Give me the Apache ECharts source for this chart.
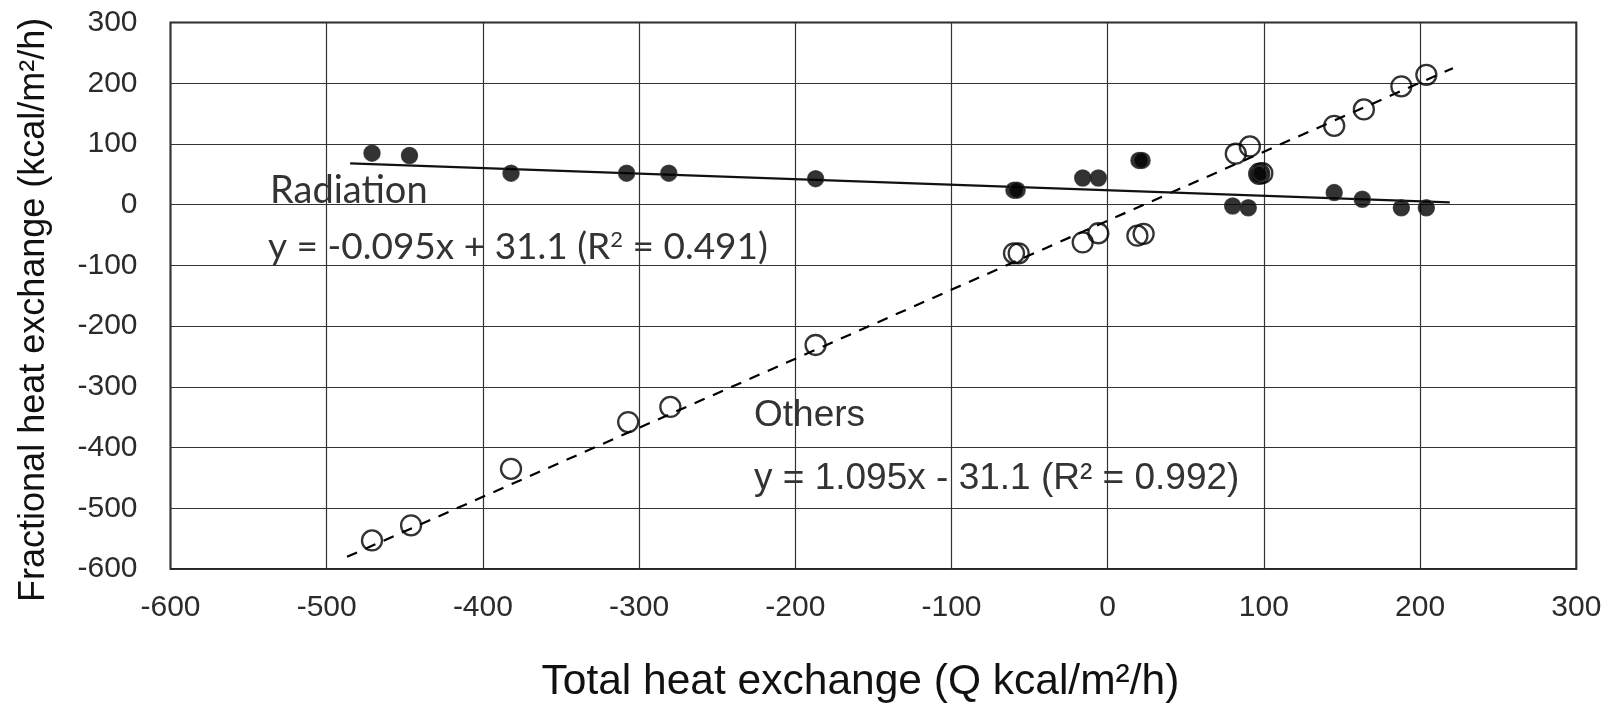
<!DOCTYPE html>
<html>
<head>
<meta charset="utf-8">
<title>Heat exchange</title>
<script src="https://cdn.jsdelivr.net/npm/echarts@6/dist/echarts.min.js"></script>
<style>
  html, body { margin: 0; padding: 0; background: #fff; }
  #container { width: 1613px; height: 715px; }
</style>
</head>
<body>
<div id="container"></div>
<script>
// total heat exchange Q for each measurement
var qRad = [-471, -447, -382, -308, -281, -187, -60, -58, -16, -6, 20, 22, 80, 90, 96, 98, 145, 163, 188, 204];
var radiation = [85, 81, 52, 52, 52, 43, 24, 24, 44, 44, 73, 73, -2, -5, 49, 52, 20, 9, -5, -5];
var qOth = [-471, -446, -382, -307, -280, -187, -60, -57, -16, -6, 19, 23, 82, 91, 97, 99, 145, 164, 188, 204];
var others = [-553, -528, -435, -358, -333, -231, -80, -80, -62, -47, -51, -48, 84, 96, 51, 52, 130, 157, 195, 214];

// fitted lines as drawn (end points)
var radFitX = [-485, 219];
var radFitY = [68, 4];
var othFitX = [-487, 221];
var othFitY = [-580, 225];

var xTicks = [-600, 300, 100]; // min, max, interval
var yTicks = [-600, 300, 100];

function pairs(xs, ys) {
    return xs.map(function (x, i) { return [x, ys[i]]; });
}

var dom = document.getElementById('container');
var myChart = echarts.init(dom);

var tickFont = { fontFamily: 'Liberation Sans', fontSize: 30, color: '#2b2b2b' };

var option = {
    animation: false,
    backgroundColor: '#fff',
    grid: {
        show: true,
        left: 170.5,
        top: 22.6,
        width: 1405.8,
        height: 546.4,
        borderColor: '#222',
        borderWidth: 2
    },
    xAxis: {
        type: 'value',
        min: xTicks[0], max: xTicks[1], interval: xTicks[2],
        name: 'Total heat exchange (Q kcal/m²/h)',
        nameLocation: 'middle',
        nameGap: 92,
        nameTextStyle: { fontFamily: 'Liberation Sans', fontSize: 42.5, color: '#111', padding: [0, 26, 0, 0] },
        axisLine: { show: false },
        axisTick: { show: false },
        axisLabel: Object.assign({ margin: 24 }, tickFont),
        splitLine: { lineStyle: { color: '#333', width: 1.2 } }
    },
    yAxis: {
        type: 'value',
        min: yTicks[0], max: yTicks[1], interval: yTicks[2],
        name: 'Fractional heat exchange (kcal/m²/h)',
        nameLocation: 'middle',
        nameGap: 118,
        nameTextStyle: { fontFamily: 'Liberation Sans', fontSize: 36, color: '#111', padding: [0, 28, 0, 0] },
        axisLine: { show: false },
        axisTick: { show: false },
        axisLabel: Object.assign({ margin: 33 }, tickFont),
        splitLine: { lineStyle: { color: '#333', width: 1.2 } }
    },
    series: [
        {
            name: 'Others fit',
            type: 'line',
            data: pairs(othFitX, othFitY),
            symbol: 'none',
            lineStyle: { color: '#000', width: 2.2, type: [11, 9] },
            z: 3
        },
        {
            name: 'Radiation fit',
            type: 'line',
            data: pairs(radFitX, radFitY),
            symbol: 'none',
            lineStyle: { color: '#111', width: 2.2 },
            z: 3
        },
        {
            name: 'Others',
            type: 'scatter',
            data: pairs(qOth, others),
            symbol: 'circle',
            symbolSize: 20,
            itemStyle: { color: 'rgba(0,0,0,0)', borderColor: '#000', borderWidth: 2.3 },
            z: 4
        },
        {
            name: 'Radiation',
            type: 'scatter',
            data: pairs(qRad, radiation),
            symbol: 'circle',
            symbolSize: 16,
            itemStyle: { color: '#000', borderColor: '#2a2a2a', borderWidth: 1.5 },
            z: 5
        }
    ],
    graphic: [
        {
            type: 'text', left: 270, top: 172,
            style: { text: 'Radiation', fontFamily: 'Lato', fontSize: 38, fill: '#333' }
        },
        {
            type: 'text', left: 268, top: 229,
            style: {
                text: 'y = -0.095x + 31.1 (R{sup|2} = 0.491)',
                fontFamily: 'Lato', fontSize: 37, fill: '#333',
                rich: { sup: { fontFamily: 'Lato', fontSize: 22, verticalAlign: 'top', fill: '#333' } }
            }
        },
        {
            type: 'text', left: 754, top: 397,
            style: { text: 'Others', fontFamily: 'Liberation Sans', fontSize: 37, fill: '#333' }
        },
        {
            type: 'text', left: 754, top: 460,
            style: { text: 'y = 1.095x - 31.1 (R² = 0.992)', fontFamily: 'Liberation Sans', fontSize: 37, fill: '#333' }
        }
    ]
};

myChart.setOption(option, true);
</script>
</body>
</html>
